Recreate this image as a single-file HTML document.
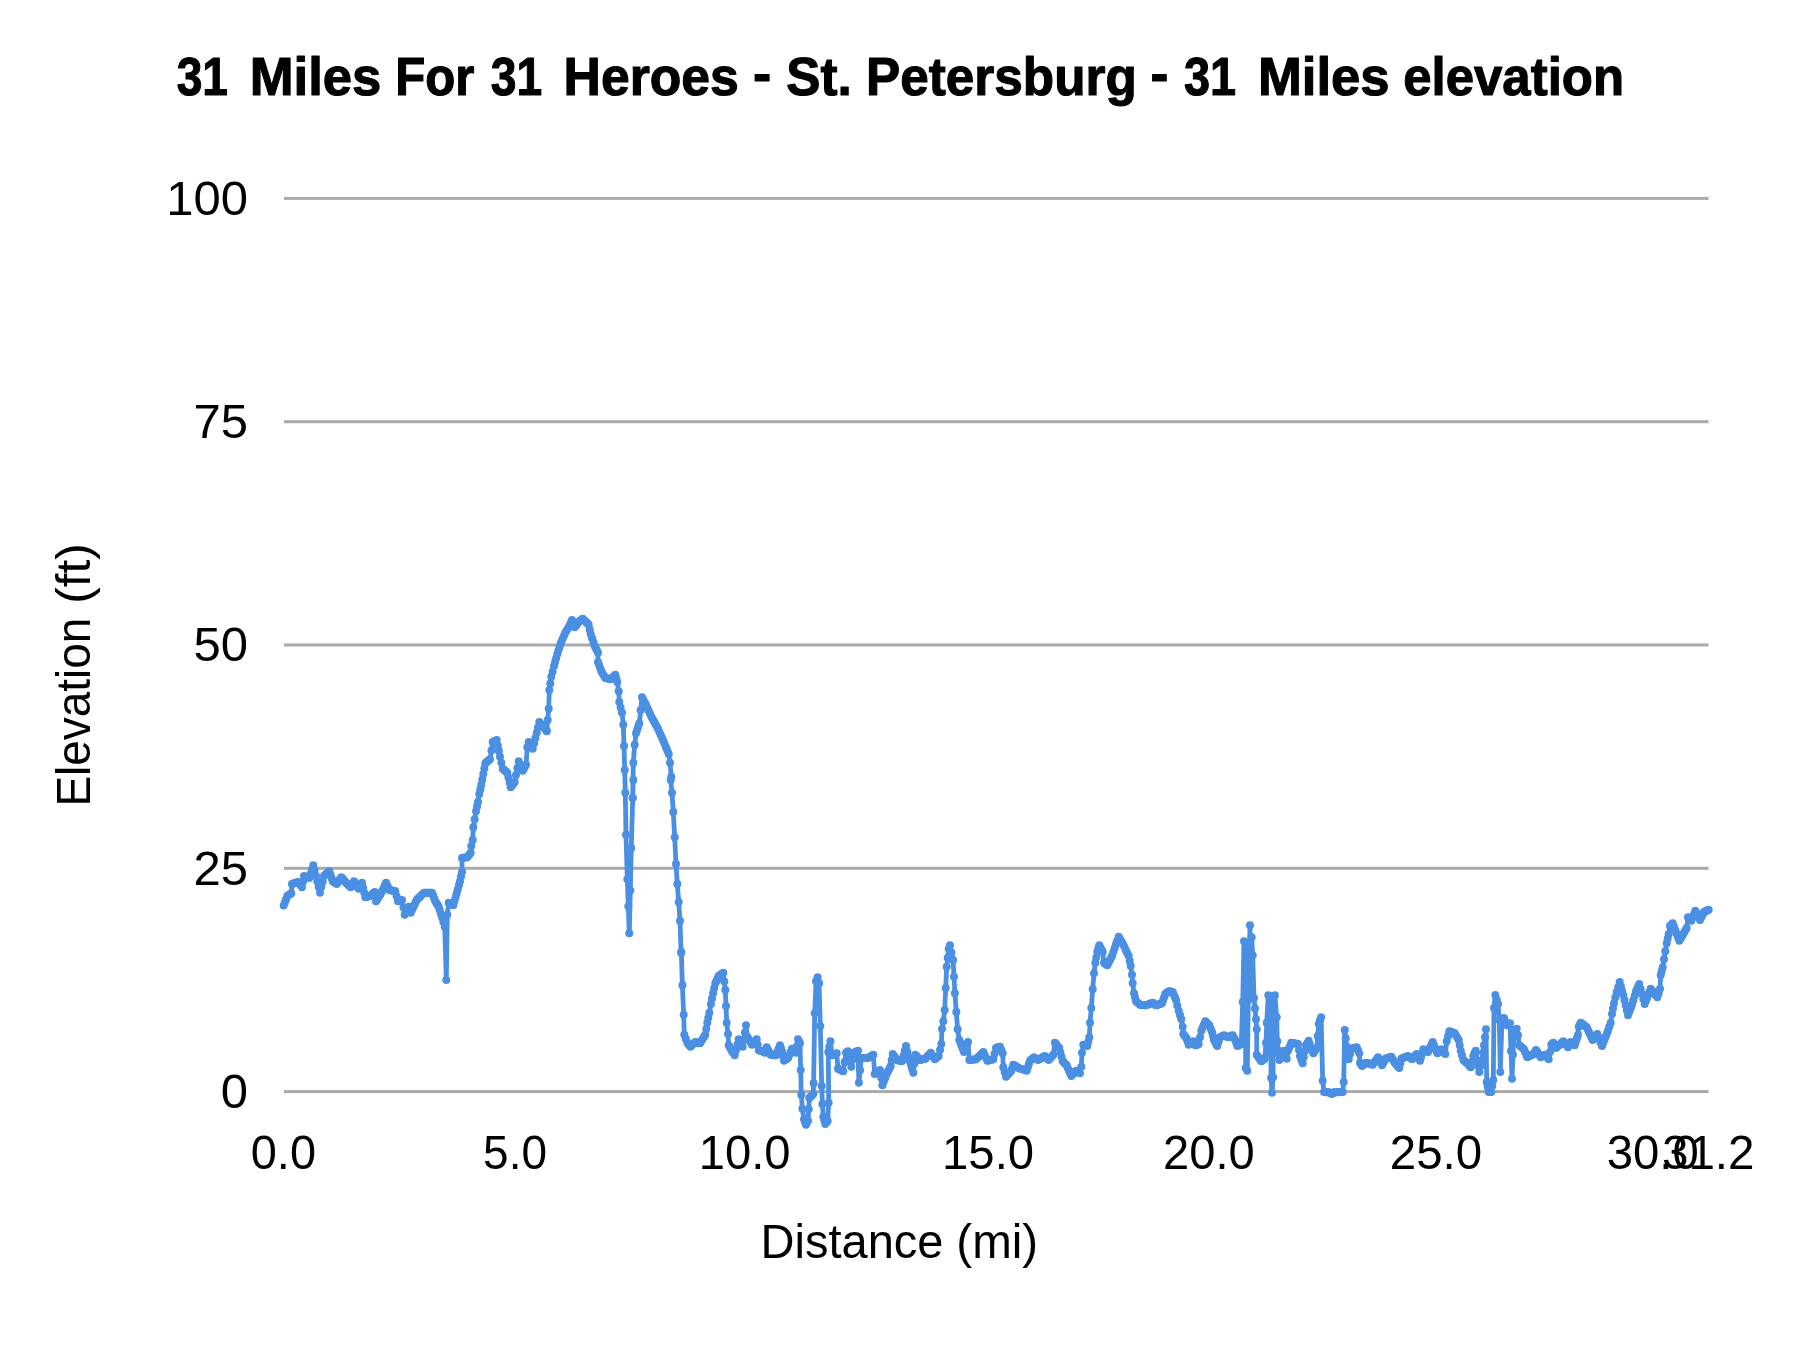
<!DOCTYPE html>
<html><head><meta charset="utf-8"><title>chart</title>
<style>
html,body{margin:0;padding:0;background:#fff;}
svg{display:block;font-family:"Liberation Sans",sans-serif;}
</style></head><body>
<svg width="1800" height="1350" viewBox="0 0 1800 1350">
<rect width="1800" height="1350" fill="#ffffff"/>
<g id="grid"><rect x="284" y="196.9" width="1424.5" height="3" fill="#aaaaaa"/><rect x="284" y="420.2" width="1424.5" height="3" fill="#aaaaaa"/><rect x="284" y="643.5" width="1424.5" height="3" fill="#aaaaaa"/><rect x="284" y="866.8" width="1424.5" height="3" fill="#aaaaaa"/><rect x="284" y="1090.1" width="1424.5" height="3" fill="#aaaaaa"/></g>
<g id="txt" fill="#000" style="filter:grayscale(1)"><text x="176.70" y="95.4" font-size="53.8" font-weight="bold" textLength="51.32" lengthAdjust="spacingAndGlyphs" stroke="#000" stroke-width="1.1" stroke-linejoin="round">31</text><text x="249.76" y="95.4" font-size="53.8" font-weight="bold" textLength="131.65" lengthAdjust="spacingAndGlyphs" stroke="#000" stroke-width="1.1" stroke-linejoin="round">Miles</text><text x="395.26" y="95.4" font-size="53.8" font-weight="bold" textLength="79.24" lengthAdjust="spacingAndGlyphs" stroke="#000" stroke-width="1.1" stroke-linejoin="round">For</text><text x="490.80" y="95.4" font-size="53.8" font-weight="bold" textLength="51.43" lengthAdjust="spacingAndGlyphs" stroke="#000" stroke-width="1.1" stroke-linejoin="round">31</text><text x="563.62" y="95.4" font-size="53.8" font-weight="bold" textLength="175.23" lengthAdjust="spacingAndGlyphs" stroke="#000" stroke-width="1.1" stroke-linejoin="round">Heroes</text><text x="752.98" y="92.4" font-size="53.8" font-weight="bold" textLength="18.26" lengthAdjust="spacingAndGlyphs" stroke="#000" stroke-width="1.1" stroke-linejoin="round">-</text><text x="786.35" y="95.4" font-size="53.8" font-weight="bold" textLength="65.47" lengthAdjust="spacingAndGlyphs" stroke="#000" stroke-width="1.1" stroke-linejoin="round">St.</text><text x="865.94" y="95.4" font-size="53.8" font-weight="bold" textLength="270.84" lengthAdjust="spacingAndGlyphs" stroke="#000" stroke-width="1.1" stroke-linejoin="round">Petersburg</text><text x="1150.50" y="92.4" font-size="53.8" font-weight="bold" textLength="17.92" lengthAdjust="spacingAndGlyphs" stroke="#000" stroke-width="1.1" stroke-linejoin="round">-</text><text x="1184.00" y="95.4" font-size="53.8" font-weight="bold" textLength="52.14" lengthAdjust="spacingAndGlyphs" stroke="#000" stroke-width="1.1" stroke-linejoin="round">31</text><text x="1257.96" y="95.4" font-size="53.8" font-weight="bold" textLength="131.65" lengthAdjust="spacingAndGlyphs" stroke="#000" stroke-width="1.1" stroke-linejoin="round">Miles</text><text x="1403.15" y="95.4" font-size="53.8" font-weight="bold" textLength="220.95" lengthAdjust="spacingAndGlyphs" stroke="#000" stroke-width="1.1" stroke-linejoin="round">elevation</text><text x="250.78" y="1169.0" font-size="49" font-weight="normal" textLength="65.25" lengthAdjust="spacingAndGlyphs">0.0</text><text x="483.12" y="1169.0" font-size="49" font-weight="normal" textLength="63.87" lengthAdjust="spacingAndGlyphs">5.0</text><text x="698.81" y="1169.0" font-size="49" font-weight="normal" textLength="91.81" lengthAdjust="spacingAndGlyphs">10.0</text><text x="942.11" y="1169.0" font-size="49" font-weight="normal" textLength="91.92" lengthAdjust="spacingAndGlyphs">15.0</text><text x="1163.08" y="1169.0" font-size="49" font-weight="normal" textLength="91.54" lengthAdjust="spacingAndGlyphs">20.0</text><text x="1389.77" y="1169.0" font-size="49" font-weight="normal" textLength="92.26" lengthAdjust="spacingAndGlyphs">25.0</text><text x="1606.77" y="1169.0" font-size="49" font-weight="normal" textLength="92.06" lengthAdjust="spacingAndGlyphs">30.0</text><text x="1661.96" y="1169.0" font-size="49" font-weight="normal" textLength="92.55" lengthAdjust="spacingAndGlyphs">31.2</text><text x="760.56" y="1258.3" font-size="48" font-weight="normal" textLength="182.95" lengthAdjust="spacingAndGlyphs">Distance</text><text x="956.32" y="1258.3" font-size="48" font-weight="normal" textLength="81.79" lengthAdjust="spacingAndGlyphs">(mi)</text><text x="248" y="214.6" text-anchor="end" font-size="49">100</text><text x="248" y="437.9" text-anchor="end" font-size="49">75</text><text x="248" y="661.2" text-anchor="end" font-size="49">50</text><text x="248" y="884.5" text-anchor="end" font-size="49">25</text><text x="248" y="1107.8" text-anchor="end" font-size="49">0</text><text transform="translate(90,806.57) rotate(-90)" font-size="48" textLength="188.93" lengthAdjust="spacingAndGlyphs">Elevation</text><text transform="translate(90,603.87) rotate(-90)" font-size="48" textLength="60.67" lengthAdjust="spacingAndGlyphs">(ft)</text></g>
<polyline points="283.7,905.6 287.3,896.0 291.3,893.3 292.0,884.0 298.0,882.0 302.0,887.3 304.0,876.0 309.3,878.0 313.3,865.3 316.0,876.0 320.0,892.7 324.0,876.0 329.3,871.3 332.7,881.3 336.7,884.0 341.3,877.3 347.3,884.0 350.7,887.3 354.0,881.3 358.7,888.7 362.0,882.7 365.3,897.3 370.0,896.0 374.7,892.0 376.0,901.3 380.7,894.0 386.0,882.7 389.3,890.0 395.3,891.3 398.0,901.3 402.0,900.0 404.7,914.7 408.7,906.7 410.7,912.7 416.7,900.0 424.0,892.7 432.0,892.7 435.3,901.3 438.7,906.7 442.0,917.3 444.7,926.7 446.3,980.0 447.3,914.7 448.7,902.7 453.3,905.3 456.7,893.3 460.0,881.3 462.0,872.0 462.0,858.0 467.3,857.3 470.7,852.7 471.3,846.0 472.7,840.0 473.3,827.3 474.7,819.3 476.0,811.3 478.0,802.0 479.3,794.0 481.3,784.7 483.3,774.0 485.3,763.3 490.0,759.3 492.7,742.0 496.7,740.0 500.0,756.7 502.7,768.7 507.3,772.7 510.7,787.3 514.7,782.0 518.7,761.3 522.7,770.7 526.0,764.7 527.3,747.3 528.7,742.0 532.7,748.7 536.7,732.7 539.3,722.0 546.7,730.7 546.7,731.3 548.7,708.7 549.3,690.0 551.3,676.7 554.0,666.0 557.3,654.0 560.7,643.3 565.3,632.7 569.3,626.0 572.0,620.0 574.7,627.3 579.3,621.3 582.7,618.7 588.7,624.7 590.7,634.0 594.7,646.0 598.0,652.7 598.0,662.0 601.3,671.3 605.3,678.0 610.7,679.3 615.3,674.7 617.3,682.0 618.7,691.3 619.3,702.0 622.0,712.7 623.3,724.7 624.0,746.0 624.7,770.0 625.3,792.7 626.0,834.7 627.3,879.3 629.3,933.3 631.3,848.0 632.7,798.0 633.3,780.0 632.7,798.0 633.3,762.7 634.7,744.7 636.0,733.3 639.3,723.3 642.0,697.3 646.0,704.7 651.3,716.7 658.0,728.7 663.3,740.7 668.7,754.0 670.0,762.7 671.3,776.7 670.7,780.0 672.0,792.7 673.3,812.0 674.7,837.3 676.0,864.0 677.3,884.0 678.7,902.0 680.0,920.7 681.1,952.7 681.3,952.0 682.4,985.3 683.7,1014.7 684.3,1034.7 687.3,1042.7 690.4,1046.7 695.3,1042.0 700.0,1043.3 705.3,1034.7 707.3,1022.7 709.3,1012.7 710.9,1004.0 713.1,993.3 715.3,983.3 718.7,976.0 723.3,972.7 725.3,990.0 726.0,1006.0 726.7,1022.7 728.0,1034.0 728.7,1045.3 732.0,1051.3 734.7,1055.3 738.7,1039.3 742.7,1046.7 746.0,1025.3 747.3,1036.7 752.0,1044.7 756.7,1039.3 758.7,1050.0 765.3,1052.7 766.7,1047.3 770.7,1054.7 776.0,1055.3 780.0,1045.3 782.0,1051.3 784.0,1060.7 788.0,1058.0 792.0,1048.7 796.0,1052.7 798.0,1039.3 800.0,1043.3 800.7,1070.0 801.3,1094.7 802.4,1108.7 804.0,1119.3 806.0,1124.7 808.0,1120.7 808.7,1109.3 809.3,1098.0 813.3,1094.0 813.6,1083.3 814.7,1013.3 816.0,981.3 817.6,977.3 819.1,983.3 820.3,1026.0 821.7,1086.0 822.4,1104.0 823.3,1116.7 825.3,1124.0 827.7,1120.7 828.7,1102.7 828.3,1052.0 830.4,1041.3 832.0,1055.3 836.7,1053.3 838.0,1068.7 843.3,1071.3 846.0,1052.7 848.0,1051.3 851.3,1066.7 854.0,1052.7 858.0,1050.7 858.9,1082.7 861.3,1058.0 868.0,1058.0 873.3,1054.7 874.7,1074.0 880.0,1070.0 882.4,1085.3 886.7,1074.0 890.7,1066.0 892.7,1054.0 896.7,1060.0 902.0,1061.3 906.0,1046.0 908.7,1057.3 913.3,1072.7 915.3,1054.7 920.0,1060.0 925.3,1058.7 930.7,1052.7 934.7,1059.3 938.7,1056.0 941.3,1044.0 942.0,1028.7 943.3,1021.3 944.7,1010.0 945.7,988.0 946.7,966.7 948.7,948.7 950.0,945.3 953.1,960.0 954.0,976.7 954.9,993.3 956.3,1012.0 957.6,1029.3 959.3,1040.0 964.0,1052.0 968.0,1042.0 969.3,1060.0 976.0,1059.3 983.3,1052.0 987.3,1060.7 993.3,1059.3 996.0,1048.0 1000.0,1046.7 1002.7,1053.3 1003.3,1067.3 1006.0,1076.7 1011.3,1070.7 1013.3,1064.7 1018.7,1068.0 1026.7,1070.7 1030.0,1060.7 1034.0,1057.3 1038.0,1060.0 1044.7,1056.0 1048.7,1060.0 1053.3,1054.7 1054.9,1042.7 1059.3,1048.0 1062.7,1061.3 1066.7,1065.3 1071.3,1076.0 1076.0,1070.7 1080.0,1073.3 1081.3,1066.7 1082.0,1052.7 1083.3,1044.7 1087.3,1046.0 1089.3,1037.3 1090.0,1022.7 1091.3,1008.0 1092.7,989.3 1094.0,973.3 1095.3,962.7 1097.3,952.0 1099.3,945.3 1102.7,952.0 1104.0,962.7 1107.3,965.3 1112.0,956.0 1116.0,944.0 1118.7,936.7 1123.3,944.7 1128.7,956.0 1130.7,966.0 1132.0,974.7 1132.7,983.3 1134.0,993.3 1136.0,1001.3 1140.0,1004.7 1146.0,1005.3 1152.7,1002.7 1156.0,1005.3 1162.0,1003.3 1165.3,994.0 1168.7,991.3 1172.7,992.0 1176.0,1000.0 1178.7,1010.7 1181.3,1019.3 1182.7,1026.7 1183.3,1034.0 1186.7,1038.7 1188.7,1044.7 1193.3,1041.3 1195.3,1045.3 1198.7,1044.0 1201.3,1030.7 1205.3,1021.3 1209.3,1025.3 1212.0,1032.0 1214.0,1040.0 1217.3,1046.0 1220.0,1037.3 1224.0,1035.3 1228.0,1037.3 1232.7,1035.3 1235.3,1040.0 1237.3,1046.0 1241.3,1044.0 1242.7,1002.0 1244.0,941.3 1244.8,1005.3 1245.9,945.3 1245.6,1068.0 1247.3,1070.7 1248.3,1000.0 1250.0,925.3 1250.7,994.7 1251.7,937.3 1252.7,955.3 1254.0,998.0 1256.0,1019.3 1256.7,1029.3 1256.7,1054.7 1261.3,1061.3 1264.7,1058.7 1266.0,1042.7 1266.7,1022.7 1268.3,995.3 1269.3,1053.3 1270.4,996.0 1271.1,1078.0 1272.0,1092.7 1273.1,1077.3 1273.3,996.7 1274.1,1053.3 1274.9,995.3 1276.7,1017.3 1277.3,1041.3 1279.3,1060.0 1284.0,1050.7 1286.7,1058.7 1288.0,1050.7 1291.3,1042.7 1298.0,1044.0 1300.0,1056.0 1302.7,1063.3 1306.0,1045.3 1308.7,1040.7 1310.7,1048.0 1313.3,1053.3 1316.7,1048.0 1318.7,1024.0 1321.1,1017.3 1322.7,1080.7 1324.0,1092.0 1329.3,1092.3 1331.7,1094.0 1334.0,1092.3 1342.7,1092.0 1343.7,1082.0 1344.7,1030.0 1346.7,1046.7 1348.7,1059.3 1351.3,1048.7 1356.7,1047.3 1359.3,1053.3 1360.0,1062.7 1362.0,1066.0 1366.0,1062.7 1372.7,1064.7 1378.0,1057.3 1382.0,1065.3 1385.3,1058.7 1391.3,1056.7 1394.7,1062.7 1399.3,1068.0 1401.3,1058.7 1408.0,1056.0 1412.0,1059.3 1416.7,1054.0 1420.0,1060.7 1423.3,1049.3 1428.0,1052.0 1432.7,1042.0 1437.3,1053.3 1441.3,1049.3 1445.3,1054.0 1446.7,1041.3 1449.3,1031.3 1454.7,1033.3 1458.7,1040.0 1460.7,1050.7 1463.3,1060.0 1468.0,1064.0 1470.7,1067.3 1473.3,1056.0 1475.7,1050.7 1477.3,1060.7 1479.3,1072.0 1482.0,1060.0 1484.0,1045.3 1486.0,1029.3 1486.7,1082.0 1488.7,1092.0 1491.3,1092.0 1493.3,1080.0 1494.0,1008.0 1495.3,994.9 1498.0,1004.0 1499.3,1020.0 1500.3,1072.0 1502.0,1018.7 1504.0,1018.0 1506.7,1025.3 1510.0,1023.3 1512.0,1078.7 1514.0,1030.7 1516.7,1028.7 1518.0,1035.3 1519.3,1045.3 1524.0,1049.3 1527.3,1057.3 1533.3,1054.0 1536.0,1050.0 1540.7,1057.3 1545.3,1054.7 1548.7,1059.3 1551.3,1044.7 1553.3,1042.7 1556.0,1048.0 1563.3,1041.3 1568.0,1047.3 1570.7,1042.0 1574.7,1045.3 1578.0,1034.7 1578.7,1026.7 1580.7,1022.7 1586.7,1027.3 1592.7,1040.0 1597.3,1034.0 1602.0,1046.0 1608.0,1030.7 1610.7,1022.7 1612.0,1014.0 1614.0,1003.3 1616.7,992.0 1619.7,982.0 1623.3,995.3 1628.0,1015.3 1632.0,1004.7 1636.0,991.3 1639.3,984.0 1644.7,1004.0 1650.7,988.7 1657.3,997.3 1660.0,988.7 1660.7,975.3 1662.7,967.3 1664.0,959.3 1665.3,951.3 1666.7,943.3 1668.7,934.0 1670.0,926.0 1672.7,923.3 1679.3,940.7 1686.7,928.0 1688.0,917.3 1691.3,920.7 1695.3,910.7 1700.0,920.0 1704.0,912.0 1708.7,909.7" fill="none" stroke="#4a8fe2" stroke-width="4.8" stroke-linejoin="round" stroke-linecap="round"/>
<g fill="#4a8fe2"><circle cx="283.7" cy="905.6" r="4"/><circle cx="284.9" cy="902.4" r="4"/><circle cx="286.1" cy="899.2" r="4"/><circle cx="287.3" cy="896.0" r="4"/><circle cx="288.6" cy="895.1" r="4"/><circle cx="290.0" cy="894.2" r="4"/><circle cx="291.3" cy="893.3" r="4"/><circle cx="292.0" cy="884.0" r="4"/><circle cx="293.2" cy="883.6" r="4"/><circle cx="294.4" cy="883.2" r="4"/><circle cx="295.6" cy="882.8" r="4"/><circle cx="296.8" cy="882.4" r="4"/><circle cx="298.0" cy="882.0" r="4"/><circle cx="299.3" cy="883.8" r="4"/><circle cx="300.7" cy="885.5" r="4"/><circle cx="302.0" cy="887.3" r="4"/><circle cx="303.0" cy="881.6" r="4"/><circle cx="304.0" cy="876.0" r="4"/><circle cx="305.3" cy="876.5" r="4"/><circle cx="306.6" cy="877.0" r="4"/><circle cx="308.0" cy="877.5" r="4"/><circle cx="309.3" cy="878.0" r="4"/><circle cx="310.6" cy="873.8" r="4"/><circle cx="312.0" cy="869.5" r="4"/><circle cx="313.3" cy="865.3" r="4"/><circle cx="314.6" cy="870.6" r="4"/><circle cx="316.0" cy="876.0" r="4"/><circle cx="317.3" cy="881.6" r="4"/><circle cx="318.7" cy="887.1" r="4"/><circle cx="320.0" cy="892.7" r="4"/><circle cx="321.3" cy="887.1" r="4"/><circle cx="322.7" cy="881.6" r="4"/><circle cx="324.0" cy="876.0" r="4"/><circle cx="325.3" cy="874.8" r="4"/><circle cx="326.6" cy="873.6" r="4"/><circle cx="328.0" cy="872.5" r="4"/><circle cx="329.3" cy="871.3" r="4"/><circle cx="330.4" cy="874.6" r="4"/><circle cx="331.6" cy="878.0" r="4"/><circle cx="332.7" cy="881.3" r="4"/><circle cx="334.0" cy="882.2" r="4"/><circle cx="335.4" cy="883.1" r="4"/><circle cx="336.7" cy="884.0" r="4"/><circle cx="337.9" cy="882.3" r="4"/><circle cx="339.0" cy="880.6" r="4"/><circle cx="340.1" cy="879.0" r="4"/><circle cx="341.3" cy="877.3" r="4"/><circle cx="342.5" cy="878.6" r="4"/><circle cx="343.7" cy="880.0" r="4"/><circle cx="344.9" cy="881.3" r="4"/><circle cx="346.1" cy="882.7" r="4"/><circle cx="347.3" cy="884.0" r="4"/><circle cx="348.4" cy="885.1" r="4"/><circle cx="349.6" cy="886.2" r="4"/><circle cx="350.7" cy="887.3" r="4"/><circle cx="351.8" cy="885.3" r="4"/><circle cx="352.9" cy="883.3" r="4"/><circle cx="354.0" cy="881.3" r="4"/><circle cx="355.2" cy="883.1" r="4"/><circle cx="356.4" cy="885.0" r="4"/><circle cx="357.5" cy="886.9" r="4"/><circle cx="358.7" cy="888.7" r="4"/><circle cx="359.8" cy="886.7" r="4"/><circle cx="360.9" cy="884.7" r="4"/><circle cx="362.0" cy="882.7" r="4"/><circle cx="363.1" cy="887.6" r="4"/><circle cx="364.2" cy="892.4" r="4"/><circle cx="365.3" cy="897.3" r="4"/><circle cx="366.5" cy="897.0" r="4"/><circle cx="367.6" cy="896.6" r="4"/><circle cx="368.8" cy="896.3" r="4"/><circle cx="370.0" cy="896.0" r="4"/><circle cx="371.2" cy="895.0" r="4"/><circle cx="372.4" cy="894.0" r="4"/><circle cx="373.5" cy="893.0" r="4"/><circle cx="374.7" cy="892.0" r="4"/><circle cx="376.0" cy="901.3" r="4"/><circle cx="377.2" cy="899.5" r="4"/><circle cx="378.4" cy="897.6" r="4"/><circle cx="379.5" cy="895.8" r="4"/><circle cx="380.7" cy="894.0" r="4"/><circle cx="382.0" cy="891.2" r="4"/><circle cx="383.4" cy="888.4" r="4"/><circle cx="384.7" cy="885.5" r="4"/><circle cx="386.0" cy="882.7" r="4"/><circle cx="387.1" cy="885.1" r="4"/><circle cx="388.2" cy="887.6" r="4"/><circle cx="389.3" cy="890.0" r="4"/><circle cx="390.5" cy="890.3" r="4"/><circle cx="391.7" cy="890.5" r="4"/><circle cx="392.9" cy="890.8" r="4"/><circle cx="394.1" cy="891.0" r="4"/><circle cx="395.3" cy="891.3" r="4"/><circle cx="396.6" cy="896.3" r="4"/><circle cx="398.0" cy="901.3" r="4"/><circle cx="399.3" cy="900.9" r="4"/><circle cx="400.7" cy="900.4" r="4"/><circle cx="402.0" cy="900.0" r="4"/><circle cx="403.4" cy="907.4" r="4"/><circle cx="404.7" cy="914.7" r="4"/><circle cx="406.0" cy="912.0" r="4"/><circle cx="407.4" cy="909.4" r="4"/><circle cx="408.7" cy="906.7" r="4"/><circle cx="409.7" cy="909.7" r="4"/><circle cx="410.7" cy="912.7" r="4"/><circle cx="411.9" cy="910.2" r="4"/><circle cx="413.1" cy="907.6" r="4"/><circle cx="414.3" cy="905.1" r="4"/><circle cx="415.5" cy="902.5" r="4"/><circle cx="416.7" cy="900.0" r="4"/><circle cx="417.9" cy="898.8" r="4"/><circle cx="419.1" cy="897.6" r="4"/><circle cx="420.4" cy="896.4" r="4"/><circle cx="421.6" cy="895.1" r="4"/><circle cx="422.8" cy="893.9" r="4"/><circle cx="424.0" cy="892.7" r="4"/><circle cx="425.3" cy="892.7" r="4"/><circle cx="426.7" cy="892.7" r="4"/><circle cx="428.0" cy="892.7" r="4"/><circle cx="429.3" cy="892.7" r="4"/><circle cx="430.7" cy="892.7" r="4"/><circle cx="432.0" cy="892.7" r="4"/><circle cx="433.1" cy="895.6" r="4"/><circle cx="434.2" cy="898.4" r="4"/><circle cx="435.3" cy="901.3" r="4"/><circle cx="436.4" cy="903.1" r="4"/><circle cx="437.6" cy="904.9" r="4"/><circle cx="438.7" cy="906.7" r="4"/><circle cx="439.8" cy="910.2" r="4"/><circle cx="440.9" cy="913.8" r="4"/><circle cx="442.0" cy="917.3" r="4"/><circle cx="443.4" cy="922.0" r="4"/><circle cx="444.7" cy="926.7" r="4"/><circle cx="446.3" cy="980.0" r="4"/><circle cx="447.3" cy="914.7" r="4"/><circle cx="448.7" cy="902.7" r="4"/><circle cx="449.9" cy="903.4" r="4"/><circle cx="451.0" cy="904.0" r="4"/><circle cx="452.1" cy="904.6" r="4"/><circle cx="453.3" cy="905.3" r="4"/><circle cx="454.4" cy="901.3" r="4"/><circle cx="455.6" cy="897.3" r="4"/><circle cx="456.7" cy="893.3" r="4"/><circle cx="457.8" cy="889.3" r="4"/><circle cx="458.9" cy="885.3" r="4"/><circle cx="460.0" cy="881.3" r="4"/><circle cx="461.0" cy="876.6" r="4"/><circle cx="462.0" cy="872.0" r="4"/><circle cx="462.0" cy="858.0" r="4"/><circle cx="463.3" cy="857.8" r="4"/><circle cx="464.6" cy="857.6" r="4"/><circle cx="466.0" cy="857.5" r="4"/><circle cx="467.3" cy="857.3" r="4"/><circle cx="468.4" cy="855.8" r="4"/><circle cx="469.6" cy="854.2" r="4"/><circle cx="470.7" cy="852.7" r="4"/><circle cx="471.3" cy="846.0" r="4"/><circle cx="472.7" cy="840.0" r="4"/><circle cx="473.3" cy="827.3" r="4"/><circle cx="474.7" cy="819.3" r="4"/><circle cx="476.0" cy="811.3" r="4"/><circle cx="477.0" cy="806.6" r="4"/><circle cx="478.0" cy="802.0" r="4"/><circle cx="479.3" cy="794.0" r="4"/><circle cx="480.3" cy="789.4" r="4"/><circle cx="481.3" cy="784.7" r="4"/><circle cx="482.3" cy="779.4" r="4"/><circle cx="483.3" cy="774.0" r="4"/><circle cx="484.3" cy="768.6" r="4"/><circle cx="485.3" cy="763.3" r="4"/><circle cx="486.5" cy="762.3" r="4"/><circle cx="487.6" cy="761.3" r="4"/><circle cx="488.8" cy="760.3" r="4"/><circle cx="490.0" cy="759.3" r="4"/><circle cx="491.4" cy="750.6" r="4"/><circle cx="492.7" cy="742.0" r="4"/><circle cx="494.0" cy="741.3" r="4"/><circle cx="495.4" cy="740.7" r="4"/><circle cx="496.7" cy="740.0" r="4"/><circle cx="497.8" cy="745.6" r="4"/><circle cx="498.9" cy="751.1" r="4"/><circle cx="500.0" cy="756.7" r="4"/><circle cx="501.4" cy="762.7" r="4"/><circle cx="502.7" cy="768.7" r="4"/><circle cx="503.9" cy="769.7" r="4"/><circle cx="505.0" cy="770.7" r="4"/><circle cx="506.1" cy="771.7" r="4"/><circle cx="507.3" cy="772.7" r="4"/><circle cx="508.4" cy="777.6" r="4"/><circle cx="509.6" cy="782.4" r="4"/><circle cx="510.7" cy="787.3" r="4"/><circle cx="512.0" cy="785.5" r="4"/><circle cx="513.4" cy="783.8" r="4"/><circle cx="514.7" cy="782.0" r="4"/><circle cx="516.0" cy="775.1" r="4"/><circle cx="517.4" cy="768.2" r="4"/><circle cx="518.7" cy="761.3" r="4"/><circle cx="520.0" cy="764.4" r="4"/><circle cx="521.4" cy="767.6" r="4"/><circle cx="522.7" cy="770.7" r="4"/><circle cx="523.8" cy="768.7" r="4"/><circle cx="524.9" cy="766.7" r="4"/><circle cx="526.0" cy="764.7" r="4"/><circle cx="527.3" cy="747.3" r="4"/><circle cx="528.7" cy="742.0" r="4"/><circle cx="530.0" cy="744.2" r="4"/><circle cx="531.4" cy="746.5" r="4"/><circle cx="532.7" cy="748.7" r="4"/><circle cx="534.0" cy="743.4" r="4"/><circle cx="535.4" cy="738.0" r="4"/><circle cx="536.7" cy="732.7" r="4"/><circle cx="538.0" cy="727.4" r="4"/><circle cx="539.3" cy="722.0" r="4"/><circle cx="540.5" cy="723.5" r="4"/><circle cx="541.8" cy="724.9" r="4"/><circle cx="543.0" cy="726.4" r="4"/><circle cx="544.2" cy="727.8" r="4"/><circle cx="545.5" cy="729.2" r="4"/><circle cx="546.7" cy="730.7" r="4"/><circle cx="546.7" cy="731.3" r="4"/><circle cx="547.7" cy="720.0" r="4"/><circle cx="548.7" cy="708.7" r="4"/><circle cx="549.3" cy="690.0" r="4"/><circle cx="550.3" cy="683.4" r="4"/><circle cx="551.3" cy="676.7" r="4"/><circle cx="552.6" cy="671.4" r="4"/><circle cx="554.0" cy="666.0" r="4"/><circle cx="555.1" cy="662.0" r="4"/><circle cx="556.2" cy="658.0" r="4"/><circle cx="557.3" cy="654.0" r="4"/><circle cx="558.4" cy="650.4" r="4"/><circle cx="559.6" cy="646.9" r="4"/><circle cx="560.7" cy="643.3" r="4"/><circle cx="561.9" cy="640.6" r="4"/><circle cx="563.0" cy="638.0" r="4"/><circle cx="564.1" cy="635.4" r="4"/><circle cx="565.3" cy="632.7" r="4"/><circle cx="566.6" cy="630.5" r="4"/><circle cx="568.0" cy="628.2" r="4"/><circle cx="569.3" cy="626.0" r="4"/><circle cx="570.6" cy="623.0" r="4"/><circle cx="572.0" cy="620.0" r="4"/><circle cx="573.4" cy="623.6" r="4"/><circle cx="574.7" cy="627.3" r="4"/><circle cx="575.9" cy="625.8" r="4"/><circle cx="577.0" cy="624.3" r="4"/><circle cx="578.1" cy="622.8" r="4"/><circle cx="579.3" cy="621.3" r="4"/><circle cx="580.4" cy="620.4" r="4"/><circle cx="581.6" cy="619.6" r="4"/><circle cx="582.7" cy="618.7" r="4"/><circle cx="583.9" cy="619.9" r="4"/><circle cx="585.1" cy="621.1" r="4"/><circle cx="586.3" cy="622.3" r="4"/><circle cx="587.5" cy="623.5" r="4"/><circle cx="588.7" cy="624.7" r="4"/><circle cx="589.7" cy="629.4" r="4"/><circle cx="590.7" cy="634.0" r="4"/><circle cx="592.0" cy="638.0" r="4"/><circle cx="593.4" cy="642.0" r="4"/><circle cx="594.7" cy="646.0" r="4"/><circle cx="595.8" cy="648.2" r="4"/><circle cx="596.9" cy="650.5" r="4"/><circle cx="598.0" cy="652.7" r="4"/><circle cx="598.0" cy="662.0" r="4"/><circle cx="599.1" cy="665.1" r="4"/><circle cx="600.2" cy="668.2" r="4"/><circle cx="601.3" cy="671.3" r="4"/><circle cx="602.6" cy="673.5" r="4"/><circle cx="604.0" cy="675.8" r="4"/><circle cx="605.3" cy="678.0" r="4"/><circle cx="606.6" cy="678.3" r="4"/><circle cx="608.0" cy="678.6" r="4"/><circle cx="609.4" cy="679.0" r="4"/><circle cx="610.7" cy="679.3" r="4"/><circle cx="611.9" cy="678.1" r="4"/><circle cx="613.0" cy="677.0" r="4"/><circle cx="614.1" cy="675.9" r="4"/><circle cx="615.3" cy="674.7" r="4"/><circle cx="616.3" cy="678.4" r="4"/><circle cx="617.3" cy="682.0" r="4"/><circle cx="618.7" cy="691.3" r="4"/><circle cx="619.3" cy="702.0" r="4"/><circle cx="620.6" cy="707.4" r="4"/><circle cx="622.0" cy="712.7" r="4"/><circle cx="623.3" cy="724.7" r="4"/><circle cx="624.0" cy="746.0" r="4"/><circle cx="624.7" cy="770.0" r="4"/><circle cx="625.3" cy="792.7" r="4"/><circle cx="626.0" cy="834.7" r="4"/><circle cx="627.3" cy="879.3" r="4"/><circle cx="628.3" cy="906.3" r="4"/><circle cx="629.3" cy="933.3" r="4"/><circle cx="630.3" cy="890.6" r="4"/><circle cx="631.3" cy="848.0" r="4"/><circle cx="632.7" cy="798.0" r="4"/><circle cx="633.3" cy="780.0" r="4"/><circle cx="632.7" cy="798.0" r="4"/><circle cx="633.3" cy="762.7" r="4"/><circle cx="634.7" cy="744.7" r="4"/><circle cx="636.0" cy="733.3" r="4"/><circle cx="637.1" cy="730.0" r="4"/><circle cx="638.2" cy="726.6" r="4"/><circle cx="639.3" cy="723.3" r="4"/><circle cx="640.6" cy="710.3" r="4"/><circle cx="642.0" cy="697.3" r="4"/><circle cx="643.3" cy="699.8" r="4"/><circle cx="644.7" cy="702.2" r="4"/><circle cx="646.0" cy="704.7" r="4"/><circle cx="647.3" cy="707.7" r="4"/><circle cx="648.6" cy="710.7" r="4"/><circle cx="650.0" cy="713.7" r="4"/><circle cx="651.3" cy="716.7" r="4"/><circle cx="652.6" cy="719.1" r="4"/><circle cx="654.0" cy="721.5" r="4"/><circle cx="655.3" cy="723.9" r="4"/><circle cx="656.7" cy="726.3" r="4"/><circle cx="658.0" cy="728.7" r="4"/><circle cx="659.3" cy="731.7" r="4"/><circle cx="660.6" cy="734.7" r="4"/><circle cx="662.0" cy="737.7" r="4"/><circle cx="663.3" cy="740.7" r="4"/><circle cx="664.6" cy="744.0" r="4"/><circle cx="666.0" cy="747.4" r="4"/><circle cx="667.4" cy="750.7" r="4"/><circle cx="668.7" cy="754.0" r="4"/><circle cx="670.0" cy="762.7" r="4"/><circle cx="671.3" cy="776.7" r="4"/><circle cx="670.7" cy="780.0" r="4"/><circle cx="672.0" cy="792.7" r="4"/><circle cx="673.3" cy="812.0" r="4"/><circle cx="674.7" cy="837.3" r="4"/><circle cx="676.0" cy="864.0" r="4"/><circle cx="677.3" cy="884.0" r="4"/><circle cx="678.7" cy="902.0" r="4"/><circle cx="680.0" cy="920.7" r="4"/><circle cx="681.1" cy="952.7" r="4"/><circle cx="681.3" cy="952.0" r="4"/><circle cx="682.4" cy="985.3" r="4"/><circle cx="683.7" cy="1014.7" r="4"/><circle cx="684.3" cy="1034.7" r="4"/><circle cx="685.8" cy="1038.7" r="4"/><circle cx="687.3" cy="1042.7" r="4"/><circle cx="688.8" cy="1044.7" r="4"/><circle cx="690.4" cy="1046.7" r="4"/><circle cx="691.6" cy="1045.5" r="4"/><circle cx="692.8" cy="1044.3" r="4"/><circle cx="694.1" cy="1043.2" r="4"/><circle cx="695.3" cy="1042.0" r="4"/><circle cx="696.5" cy="1042.3" r="4"/><circle cx="697.6" cy="1042.7" r="4"/><circle cx="698.8" cy="1043.0" r="4"/><circle cx="700.0" cy="1043.3" r="4"/><circle cx="701.3" cy="1041.2" r="4"/><circle cx="702.6" cy="1039.0" r="4"/><circle cx="704.0" cy="1036.8" r="4"/><circle cx="705.3" cy="1034.7" r="4"/><circle cx="706.3" cy="1028.7" r="4"/><circle cx="707.3" cy="1022.7" r="4"/><circle cx="708.3" cy="1017.7" r="4"/><circle cx="709.3" cy="1012.7" r="4"/><circle cx="710.9" cy="1004.0" r="4"/><circle cx="712.0" cy="998.6" r="4"/><circle cx="713.1" cy="993.3" r="4"/><circle cx="714.2" cy="988.3" r="4"/><circle cx="715.3" cy="983.3" r="4"/><circle cx="716.4" cy="980.9" r="4"/><circle cx="717.6" cy="978.4" r="4"/><circle cx="718.7" cy="976.0" r="4"/><circle cx="719.9" cy="975.2" r="4"/><circle cx="721.0" cy="974.4" r="4"/><circle cx="722.1" cy="973.5" r="4"/><circle cx="723.3" cy="972.7" r="4"/><circle cx="724.3" cy="981.4" r="4"/><circle cx="725.3" cy="990.0" r="4"/><circle cx="726.0" cy="1006.0" r="4"/><circle cx="726.7" cy="1022.7" r="4"/><circle cx="728.0" cy="1034.0" r="4"/><circle cx="728.7" cy="1045.3" r="4"/><circle cx="729.8" cy="1047.3" r="4"/><circle cx="730.9" cy="1049.3" r="4"/><circle cx="732.0" cy="1051.3" r="4"/><circle cx="733.4" cy="1053.3" r="4"/><circle cx="734.7" cy="1055.3" r="4"/><circle cx="736.0" cy="1050.0" r="4"/><circle cx="737.4" cy="1044.6" r="4"/><circle cx="738.7" cy="1039.3" r="4"/><circle cx="740.0" cy="1041.8" r="4"/><circle cx="741.4" cy="1044.2" r="4"/><circle cx="742.7" cy="1046.7" r="4"/><circle cx="743.8" cy="1039.6" r="4"/><circle cx="744.9" cy="1032.4" r="4"/><circle cx="746.0" cy="1025.3" r="4"/><circle cx="747.3" cy="1036.7" r="4"/><circle cx="748.5" cy="1038.7" r="4"/><circle cx="749.6" cy="1040.7" r="4"/><circle cx="750.8" cy="1042.7" r="4"/><circle cx="752.0" cy="1044.7" r="4"/><circle cx="753.2" cy="1043.3" r="4"/><circle cx="754.4" cy="1042.0" r="4"/><circle cx="755.5" cy="1040.7" r="4"/><circle cx="756.7" cy="1039.3" r="4"/><circle cx="757.7" cy="1044.7" r="4"/><circle cx="758.7" cy="1050.0" r="4"/><circle cx="760.0" cy="1050.5" r="4"/><circle cx="761.3" cy="1051.1" r="4"/><circle cx="762.7" cy="1051.6" r="4"/><circle cx="764.0" cy="1052.2" r="4"/><circle cx="765.3" cy="1052.7" r="4"/><circle cx="766.7" cy="1047.3" r="4"/><circle cx="768.0" cy="1049.8" r="4"/><circle cx="769.4" cy="1052.2" r="4"/><circle cx="770.7" cy="1054.7" r="4"/><circle cx="772.0" cy="1054.8" r="4"/><circle cx="773.4" cy="1055.0" r="4"/><circle cx="774.7" cy="1055.2" r="4"/><circle cx="776.0" cy="1055.3" r="4"/><circle cx="777.3" cy="1052.0" r="4"/><circle cx="778.7" cy="1048.6" r="4"/><circle cx="780.0" cy="1045.3" r="4"/><circle cx="781.0" cy="1048.3" r="4"/><circle cx="782.0" cy="1051.3" r="4"/><circle cx="783.0" cy="1056.0" r="4"/><circle cx="784.0" cy="1060.7" r="4"/><circle cx="785.3" cy="1059.8" r="4"/><circle cx="786.7" cy="1058.9" r="4"/><circle cx="788.0" cy="1058.0" r="4"/><circle cx="789.3" cy="1054.9" r="4"/><circle cx="790.7" cy="1051.8" r="4"/><circle cx="792.0" cy="1048.7" r="4"/><circle cx="793.3" cy="1050.0" r="4"/><circle cx="794.7" cy="1051.4" r="4"/><circle cx="796.0" cy="1052.7" r="4"/><circle cx="797.0" cy="1046.0" r="4"/><circle cx="798.0" cy="1039.3" r="4"/><circle cx="799.0" cy="1041.3" r="4"/><circle cx="800.0" cy="1043.3" r="4"/><circle cx="800.7" cy="1070.0" r="4"/><circle cx="801.3" cy="1094.7" r="4"/><circle cx="802.4" cy="1108.7" r="4"/><circle cx="804.0" cy="1119.3" r="4"/><circle cx="805.0" cy="1122.0" r="4"/><circle cx="806.0" cy="1124.7" r="4"/><circle cx="807.0" cy="1122.7" r="4"/><circle cx="808.0" cy="1120.7" r="4"/><circle cx="808.7" cy="1109.3" r="4"/><circle cx="809.3" cy="1098.0" r="4"/><circle cx="810.6" cy="1096.7" r="4"/><circle cx="812.0" cy="1095.3" r="4"/><circle cx="813.3" cy="1094.0" r="4"/><circle cx="813.6" cy="1083.3" r="4"/><circle cx="814.7" cy="1013.3" r="4"/><circle cx="816.0" cy="981.3" r="4"/><circle cx="817.6" cy="977.3" r="4"/><circle cx="819.1" cy="983.3" r="4"/><circle cx="820.3" cy="1026.0" r="4"/><circle cx="821.7" cy="1086.0" r="4"/><circle cx="822.4" cy="1104.0" r="4"/><circle cx="823.3" cy="1116.7" r="4"/><circle cx="824.3" cy="1120.3" r="4"/><circle cx="825.3" cy="1124.0" r="4"/><circle cx="826.5" cy="1122.3" r="4"/><circle cx="827.7" cy="1120.7" r="4"/><circle cx="828.7" cy="1102.7" r="4"/><circle cx="828.3" cy="1052.0" r="4"/><circle cx="829.3" cy="1046.7" r="4"/><circle cx="830.4" cy="1041.3" r="4"/><circle cx="832.0" cy="1055.3" r="4"/><circle cx="833.2" cy="1054.8" r="4"/><circle cx="834.4" cy="1054.3" r="4"/><circle cx="835.5" cy="1053.8" r="4"/><circle cx="836.7" cy="1053.3" r="4"/><circle cx="838.0" cy="1068.7" r="4"/><circle cx="839.3" cy="1069.3" r="4"/><circle cx="840.6" cy="1070.0" r="4"/><circle cx="842.0" cy="1070.7" r="4"/><circle cx="843.3" cy="1071.3" r="4"/><circle cx="844.6" cy="1062.0" r="4"/><circle cx="846.0" cy="1052.7" r="4"/><circle cx="847.0" cy="1052.0" r="4"/><circle cx="848.0" cy="1051.3" r="4"/><circle cx="849.1" cy="1056.4" r="4"/><circle cx="850.2" cy="1061.6" r="4"/><circle cx="851.3" cy="1066.7" r="4"/><circle cx="852.6" cy="1059.7" r="4"/><circle cx="854.0" cy="1052.7" r="4"/><circle cx="855.3" cy="1052.0" r="4"/><circle cx="856.7" cy="1051.4" r="4"/><circle cx="858.0" cy="1050.7" r="4"/><circle cx="858.9" cy="1082.7" r="4"/><circle cx="860.1" cy="1070.3" r="4"/><circle cx="861.3" cy="1058.0" r="4"/><circle cx="862.6" cy="1058.0" r="4"/><circle cx="864.0" cy="1058.0" r="4"/><circle cx="865.3" cy="1058.0" r="4"/><circle cx="866.7" cy="1058.0" r="4"/><circle cx="868.0" cy="1058.0" r="4"/><circle cx="869.3" cy="1057.2" r="4"/><circle cx="870.6" cy="1056.3" r="4"/><circle cx="872.0" cy="1055.5" r="4"/><circle cx="873.3" cy="1054.7" r="4"/><circle cx="874.7" cy="1074.0" r="4"/><circle cx="876.0" cy="1073.0" r="4"/><circle cx="877.4" cy="1072.0" r="4"/><circle cx="878.7" cy="1071.0" r="4"/><circle cx="880.0" cy="1070.0" r="4"/><circle cx="881.2" cy="1077.7" r="4"/><circle cx="882.4" cy="1085.3" r="4"/><circle cx="883.8" cy="1081.5" r="4"/><circle cx="885.3" cy="1077.8" r="4"/><circle cx="886.7" cy="1074.0" r="4"/><circle cx="888.0" cy="1071.3" r="4"/><circle cx="889.4" cy="1068.7" r="4"/><circle cx="890.7" cy="1066.0" r="4"/><circle cx="891.7" cy="1060.0" r="4"/><circle cx="892.7" cy="1054.0" r="4"/><circle cx="894.0" cy="1056.0" r="4"/><circle cx="895.4" cy="1058.0" r="4"/><circle cx="896.7" cy="1060.0" r="4"/><circle cx="898.0" cy="1060.3" r="4"/><circle cx="899.4" cy="1060.7" r="4"/><circle cx="900.7" cy="1061.0" r="4"/><circle cx="902.0" cy="1061.3" r="4"/><circle cx="903.3" cy="1056.2" r="4"/><circle cx="904.7" cy="1051.1" r="4"/><circle cx="906.0" cy="1046.0" r="4"/><circle cx="907.4" cy="1051.7" r="4"/><circle cx="908.7" cy="1057.3" r="4"/><circle cx="909.9" cy="1061.2" r="4"/><circle cx="911.0" cy="1065.0" r="4"/><circle cx="912.1" cy="1068.8" r="4"/><circle cx="913.3" cy="1072.7" r="4"/><circle cx="914.3" cy="1063.7" r="4"/><circle cx="915.3" cy="1054.7" r="4"/><circle cx="916.5" cy="1056.0" r="4"/><circle cx="917.6" cy="1057.3" r="4"/><circle cx="918.8" cy="1058.7" r="4"/><circle cx="920.0" cy="1060.0" r="4"/><circle cx="921.3" cy="1059.7" r="4"/><circle cx="922.6" cy="1059.3" r="4"/><circle cx="924.0" cy="1059.0" r="4"/><circle cx="925.3" cy="1058.7" r="4"/><circle cx="926.6" cy="1057.2" r="4"/><circle cx="928.0" cy="1055.7" r="4"/><circle cx="929.4" cy="1054.2" r="4"/><circle cx="930.7" cy="1052.7" r="4"/><circle cx="932.0" cy="1054.9" r="4"/><circle cx="933.4" cy="1057.1" r="4"/><circle cx="934.7" cy="1059.3" r="4"/><circle cx="936.0" cy="1058.2" r="4"/><circle cx="937.4" cy="1057.1" r="4"/><circle cx="938.7" cy="1056.0" r="4"/><circle cx="940.0" cy="1050.0" r="4"/><circle cx="941.3" cy="1044.0" r="4"/><circle cx="942.0" cy="1028.7" r="4"/><circle cx="943.3" cy="1021.3" r="4"/><circle cx="944.7" cy="1010.0" r="4"/><circle cx="945.7" cy="988.0" r="4"/><circle cx="946.7" cy="966.7" r="4"/><circle cx="947.7" cy="957.7" r="4"/><circle cx="948.7" cy="948.7" r="4"/><circle cx="950.0" cy="945.3" r="4"/><circle cx="951.5" cy="952.6" r="4"/><circle cx="953.1" cy="960.0" r="4"/><circle cx="954.0" cy="976.7" r="4"/><circle cx="954.9" cy="993.3" r="4"/><circle cx="956.3" cy="1012.0" r="4"/><circle cx="957.6" cy="1029.3" r="4"/><circle cx="959.3" cy="1040.0" r="4"/><circle cx="960.5" cy="1043.0" r="4"/><circle cx="961.6" cy="1046.0" r="4"/><circle cx="962.8" cy="1049.0" r="4"/><circle cx="964.0" cy="1052.0" r="4"/><circle cx="965.3" cy="1048.7" r="4"/><circle cx="966.7" cy="1045.3" r="4"/><circle cx="968.0" cy="1042.0" r="4"/><circle cx="969.3" cy="1060.0" r="4"/><circle cx="970.6" cy="1059.9" r="4"/><circle cx="972.0" cy="1059.7" r="4"/><circle cx="973.3" cy="1059.6" r="4"/><circle cx="974.7" cy="1059.4" r="4"/><circle cx="976.0" cy="1059.3" r="4"/><circle cx="977.2" cy="1058.1" r="4"/><circle cx="978.4" cy="1056.9" r="4"/><circle cx="979.6" cy="1055.7" r="4"/><circle cx="980.9" cy="1054.4" r="4"/><circle cx="982.1" cy="1053.2" r="4"/><circle cx="983.3" cy="1052.0" r="4"/><circle cx="984.6" cy="1054.9" r="4"/><circle cx="986.0" cy="1057.8" r="4"/><circle cx="987.3" cy="1060.7" r="4"/><circle cx="988.5" cy="1060.4" r="4"/><circle cx="989.7" cy="1060.1" r="4"/><circle cx="990.9" cy="1059.9" r="4"/><circle cx="992.1" cy="1059.6" r="4"/><circle cx="993.3" cy="1059.3" r="4"/><circle cx="994.6" cy="1053.7" r="4"/><circle cx="996.0" cy="1048.0" r="4"/><circle cx="997.3" cy="1047.6" r="4"/><circle cx="998.7" cy="1047.1" r="4"/><circle cx="1000.0" cy="1046.7" r="4"/><circle cx="1001.4" cy="1050.0" r="4"/><circle cx="1002.7" cy="1053.3" r="4"/><circle cx="1003.3" cy="1067.3" r="4"/><circle cx="1004.6" cy="1072.0" r="4"/><circle cx="1006.0" cy="1076.7" r="4"/><circle cx="1007.3" cy="1075.2" r="4"/><circle cx="1008.6" cy="1073.7" r="4"/><circle cx="1010.0" cy="1072.2" r="4"/><circle cx="1011.3" cy="1070.7" r="4"/><circle cx="1012.3" cy="1067.7" r="4"/><circle cx="1013.3" cy="1064.7" r="4"/><circle cx="1014.6" cy="1065.5" r="4"/><circle cx="1016.0" cy="1066.3" r="4"/><circle cx="1017.4" cy="1067.2" r="4"/><circle cx="1018.7" cy="1068.0" r="4"/><circle cx="1020.0" cy="1068.5" r="4"/><circle cx="1021.4" cy="1068.9" r="4"/><circle cx="1022.7" cy="1069.3" r="4"/><circle cx="1024.0" cy="1069.8" r="4"/><circle cx="1025.4" cy="1070.2" r="4"/><circle cx="1026.7" cy="1070.7" r="4"/><circle cx="1027.8" cy="1067.4" r="4"/><circle cx="1028.9" cy="1064.0" r="4"/><circle cx="1030.0" cy="1060.7" r="4"/><circle cx="1031.3" cy="1059.6" r="4"/><circle cx="1032.7" cy="1058.4" r="4"/><circle cx="1034.0" cy="1057.3" r="4"/><circle cx="1035.3" cy="1058.2" r="4"/><circle cx="1036.7" cy="1059.1" r="4"/><circle cx="1038.0" cy="1060.0" r="4"/><circle cx="1039.3" cy="1059.2" r="4"/><circle cx="1040.7" cy="1058.4" r="4"/><circle cx="1042.0" cy="1057.6" r="4"/><circle cx="1043.4" cy="1056.8" r="4"/><circle cx="1044.7" cy="1056.0" r="4"/><circle cx="1046.0" cy="1057.3" r="4"/><circle cx="1047.4" cy="1058.7" r="4"/><circle cx="1048.7" cy="1060.0" r="4"/><circle cx="1049.8" cy="1058.7" r="4"/><circle cx="1051.0" cy="1057.3" r="4"/><circle cx="1052.2" cy="1056.0" r="4"/><circle cx="1053.3" cy="1054.7" r="4"/><circle cx="1054.9" cy="1042.7" r="4"/><circle cx="1056.4" cy="1044.5" r="4"/><circle cx="1057.8" cy="1046.2" r="4"/><circle cx="1059.3" cy="1048.0" r="4"/><circle cx="1060.4" cy="1052.4" r="4"/><circle cx="1061.6" cy="1056.9" r="4"/><circle cx="1062.7" cy="1061.3" r="4"/><circle cx="1064.0" cy="1062.6" r="4"/><circle cx="1065.4" cy="1064.0" r="4"/><circle cx="1066.7" cy="1065.3" r="4"/><circle cx="1067.8" cy="1068.0" r="4"/><circle cx="1069.0" cy="1070.7" r="4"/><circle cx="1070.2" cy="1073.3" r="4"/><circle cx="1071.3" cy="1076.0" r="4"/><circle cx="1072.5" cy="1074.7" r="4"/><circle cx="1073.7" cy="1073.3" r="4"/><circle cx="1074.8" cy="1072.0" r="4"/><circle cx="1076.0" cy="1070.7" r="4"/><circle cx="1077.3" cy="1071.6" r="4"/><circle cx="1078.7" cy="1072.4" r="4"/><circle cx="1080.0" cy="1073.3" r="4"/><circle cx="1081.3" cy="1066.7" r="4"/><circle cx="1082.0" cy="1052.7" r="4"/><circle cx="1083.3" cy="1044.7" r="4"/><circle cx="1084.6" cy="1045.1" r="4"/><circle cx="1086.0" cy="1045.6" r="4"/><circle cx="1087.3" cy="1046.0" r="4"/><circle cx="1088.3" cy="1041.7" r="4"/><circle cx="1089.3" cy="1037.3" r="4"/><circle cx="1090.0" cy="1022.7" r="4"/><circle cx="1091.3" cy="1008.0" r="4"/><circle cx="1092.7" cy="989.3" r="4"/><circle cx="1094.0" cy="973.3" r="4"/><circle cx="1095.3" cy="962.7" r="4"/><circle cx="1096.3" cy="957.4" r="4"/><circle cx="1097.3" cy="952.0" r="4"/><circle cx="1098.3" cy="948.6" r="4"/><circle cx="1099.3" cy="945.3" r="4"/><circle cx="1100.4" cy="947.5" r="4"/><circle cx="1101.6" cy="949.8" r="4"/><circle cx="1102.7" cy="952.0" r="4"/><circle cx="1104.0" cy="962.7" r="4"/><circle cx="1105.1" cy="963.6" r="4"/><circle cx="1106.2" cy="964.4" r="4"/><circle cx="1107.3" cy="965.3" r="4"/><circle cx="1108.5" cy="963.0" r="4"/><circle cx="1109.7" cy="960.6" r="4"/><circle cx="1110.8" cy="958.3" r="4"/><circle cx="1112.0" cy="956.0" r="4"/><circle cx="1113.3" cy="952.0" r="4"/><circle cx="1114.7" cy="948.0" r="4"/><circle cx="1116.0" cy="944.0" r="4"/><circle cx="1117.3" cy="940.4" r="4"/><circle cx="1118.7" cy="936.7" r="4"/><circle cx="1119.8" cy="938.7" r="4"/><circle cx="1121.0" cy="940.7" r="4"/><circle cx="1122.2" cy="942.7" r="4"/><circle cx="1123.3" cy="944.7" r="4"/><circle cx="1124.7" cy="947.5" r="4"/><circle cx="1126.0" cy="950.4" r="4"/><circle cx="1127.3" cy="953.2" r="4"/><circle cx="1128.7" cy="956.0" r="4"/><circle cx="1129.7" cy="961.0" r="4"/><circle cx="1130.7" cy="966.0" r="4"/><circle cx="1132.0" cy="974.7" r="4"/><circle cx="1132.7" cy="983.3" r="4"/><circle cx="1134.0" cy="993.3" r="4"/><circle cx="1135.0" cy="997.3" r="4"/><circle cx="1136.0" cy="1001.3" r="4"/><circle cx="1137.3" cy="1002.4" r="4"/><circle cx="1138.7" cy="1003.6" r="4"/><circle cx="1140.0" cy="1004.7" r="4"/><circle cx="1141.2" cy="1004.8" r="4"/><circle cx="1142.4" cy="1004.9" r="4"/><circle cx="1143.6" cy="1005.1" r="4"/><circle cx="1144.8" cy="1005.2" r="4"/><circle cx="1146.0" cy="1005.3" r="4"/><circle cx="1147.3" cy="1004.8" r="4"/><circle cx="1148.7" cy="1004.3" r="4"/><circle cx="1150.0" cy="1003.7" r="4"/><circle cx="1151.4" cy="1003.2" r="4"/><circle cx="1152.7" cy="1002.7" r="4"/><circle cx="1153.8" cy="1003.6" r="4"/><circle cx="1154.9" cy="1004.4" r="4"/><circle cx="1156.0" cy="1005.3" r="4"/><circle cx="1157.2" cy="1004.9" r="4"/><circle cx="1158.4" cy="1004.5" r="4"/><circle cx="1159.6" cy="1004.1" r="4"/><circle cx="1160.8" cy="1003.7" r="4"/><circle cx="1162.0" cy="1003.3" r="4"/><circle cx="1163.1" cy="1000.2" r="4"/><circle cx="1164.2" cy="997.1" r="4"/><circle cx="1165.3" cy="994.0" r="4"/><circle cx="1166.4" cy="993.1" r="4"/><circle cx="1167.6" cy="992.2" r="4"/><circle cx="1168.7" cy="991.3" r="4"/><circle cx="1170.0" cy="991.5" r="4"/><circle cx="1171.4" cy="991.8" r="4"/><circle cx="1172.7" cy="992.0" r="4"/><circle cx="1173.8" cy="994.7" r="4"/><circle cx="1174.9" cy="997.3" r="4"/><circle cx="1176.0" cy="1000.0" r="4"/><circle cx="1177.3" cy="1005.4" r="4"/><circle cx="1178.7" cy="1010.7" r="4"/><circle cx="1180.0" cy="1015.0" r="4"/><circle cx="1181.3" cy="1019.3" r="4"/><circle cx="1182.7" cy="1026.7" r="4"/><circle cx="1183.3" cy="1034.0" r="4"/><circle cx="1184.4" cy="1035.6" r="4"/><circle cx="1185.6" cy="1037.1" r="4"/><circle cx="1186.7" cy="1038.7" r="4"/><circle cx="1187.7" cy="1041.7" r="4"/><circle cx="1188.7" cy="1044.7" r="4"/><circle cx="1189.8" cy="1043.8" r="4"/><circle cx="1191.0" cy="1043.0" r="4"/><circle cx="1192.2" cy="1042.2" r="4"/><circle cx="1193.3" cy="1041.3" r="4"/><circle cx="1194.3" cy="1043.3" r="4"/><circle cx="1195.3" cy="1045.3" r="4"/><circle cx="1196.4" cy="1044.9" r="4"/><circle cx="1197.6" cy="1044.4" r="4"/><circle cx="1198.7" cy="1044.0" r="4"/><circle cx="1200.0" cy="1037.3" r="4"/><circle cx="1201.3" cy="1030.7" r="4"/><circle cx="1202.6" cy="1027.6" r="4"/><circle cx="1204.0" cy="1024.4" r="4"/><circle cx="1205.3" cy="1021.3" r="4"/><circle cx="1206.6" cy="1022.6" r="4"/><circle cx="1208.0" cy="1024.0" r="4"/><circle cx="1209.3" cy="1025.3" r="4"/><circle cx="1210.7" cy="1028.7" r="4"/><circle cx="1212.0" cy="1032.0" r="4"/><circle cx="1213.0" cy="1036.0" r="4"/><circle cx="1214.0" cy="1040.0" r="4"/><circle cx="1215.1" cy="1042.0" r="4"/><circle cx="1216.2" cy="1044.0" r="4"/><circle cx="1217.3" cy="1046.0" r="4"/><circle cx="1218.7" cy="1041.7" r="4"/><circle cx="1220.0" cy="1037.3" r="4"/><circle cx="1221.3" cy="1036.6" r="4"/><circle cx="1222.7" cy="1036.0" r="4"/><circle cx="1224.0" cy="1035.3" r="4"/><circle cx="1225.3" cy="1036.0" r="4"/><circle cx="1226.7" cy="1036.6" r="4"/><circle cx="1228.0" cy="1037.3" r="4"/><circle cx="1229.2" cy="1036.8" r="4"/><circle cx="1230.3" cy="1036.3" r="4"/><circle cx="1231.5" cy="1035.8" r="4"/><circle cx="1232.7" cy="1035.3" r="4"/><circle cx="1234.0" cy="1037.7" r="4"/><circle cx="1235.3" cy="1040.0" r="4"/><circle cx="1236.3" cy="1043.0" r="4"/><circle cx="1237.3" cy="1046.0" r="4"/><circle cx="1238.6" cy="1045.3" r="4"/><circle cx="1240.0" cy="1044.7" r="4"/><circle cx="1241.3" cy="1044.0" r="4"/><circle cx="1242.7" cy="1002.0" r="4"/><circle cx="1244.0" cy="941.3" r="4"/><circle cx="1244.8" cy="1005.3" r="4"/><circle cx="1245.9" cy="945.3" r="4"/><circle cx="1245.6" cy="1068.0" r="4"/><circle cx="1247.3" cy="1070.7" r="4"/><circle cx="1248.3" cy="1000.0" r="4"/><circle cx="1250.0" cy="925.3" r="4"/><circle cx="1250.7" cy="994.7" r="4"/><circle cx="1251.7" cy="937.3" r="4"/><circle cx="1252.7" cy="955.3" r="4"/><circle cx="1254.0" cy="998.0" r="4"/><circle cx="1255.0" cy="1008.6" r="4"/><circle cx="1256.0" cy="1019.3" r="4"/><circle cx="1256.7" cy="1029.3" r="4"/><circle cx="1256.7" cy="1054.7" r="4"/><circle cx="1257.8" cy="1056.3" r="4"/><circle cx="1259.0" cy="1058.0" r="4"/><circle cx="1260.2" cy="1059.7" r="4"/><circle cx="1261.3" cy="1061.3" r="4"/><circle cx="1262.4" cy="1060.4" r="4"/><circle cx="1263.6" cy="1059.6" r="4"/><circle cx="1264.7" cy="1058.7" r="4"/><circle cx="1266.0" cy="1042.7" r="4"/><circle cx="1266.7" cy="1022.7" r="4"/><circle cx="1268.3" cy="995.3" r="4"/><circle cx="1269.3" cy="1053.3" r="4"/><circle cx="1270.4" cy="996.0" r="4"/><circle cx="1271.1" cy="1078.0" r="4"/><circle cx="1272.0" cy="1092.7" r="4"/><circle cx="1273.1" cy="1077.3" r="4"/><circle cx="1273.3" cy="996.7" r="4"/><circle cx="1274.1" cy="1053.3" r="4"/><circle cx="1274.9" cy="995.3" r="4"/><circle cx="1276.7" cy="1017.3" r="4"/><circle cx="1277.3" cy="1041.3" r="4"/><circle cx="1278.3" cy="1050.7" r="4"/><circle cx="1279.3" cy="1060.0" r="4"/><circle cx="1280.5" cy="1057.7" r="4"/><circle cx="1281.7" cy="1055.3" r="4"/><circle cx="1282.8" cy="1053.0" r="4"/><circle cx="1284.0" cy="1050.7" r="4"/><circle cx="1285.3" cy="1054.7" r="4"/><circle cx="1286.7" cy="1058.7" r="4"/><circle cx="1288.0" cy="1050.7" r="4"/><circle cx="1289.1" cy="1048.0" r="4"/><circle cx="1290.2" cy="1045.4" r="4"/><circle cx="1291.3" cy="1042.7" r="4"/><circle cx="1292.6" cy="1043.0" r="4"/><circle cx="1294.0" cy="1043.2" r="4"/><circle cx="1295.3" cy="1043.5" r="4"/><circle cx="1296.7" cy="1043.7" r="4"/><circle cx="1298.0" cy="1044.0" r="4"/><circle cx="1299.0" cy="1050.0" r="4"/><circle cx="1300.0" cy="1056.0" r="4"/><circle cx="1301.3" cy="1059.7" r="4"/><circle cx="1302.7" cy="1063.3" r="4"/><circle cx="1303.8" cy="1057.3" r="4"/><circle cx="1304.9" cy="1051.3" r="4"/><circle cx="1306.0" cy="1045.3" r="4"/><circle cx="1307.3" cy="1043.0" r="4"/><circle cx="1308.7" cy="1040.7" r="4"/><circle cx="1309.7" cy="1044.3" r="4"/><circle cx="1310.7" cy="1048.0" r="4"/><circle cx="1312.0" cy="1050.7" r="4"/><circle cx="1313.3" cy="1053.3" r="4"/><circle cx="1314.4" cy="1051.5" r="4"/><circle cx="1315.6" cy="1049.8" r="4"/><circle cx="1316.7" cy="1048.0" r="4"/><circle cx="1317.7" cy="1036.0" r="4"/><circle cx="1318.7" cy="1024.0" r="4"/><circle cx="1319.9" cy="1020.6" r="4"/><circle cx="1321.1" cy="1017.3" r="4"/><circle cx="1322.7" cy="1080.7" r="4"/><circle cx="1324.0" cy="1092.0" r="4"/><circle cx="1325.3" cy="1092.1" r="4"/><circle cx="1326.7" cy="1092.2" r="4"/><circle cx="1328.0" cy="1092.2" r="4"/><circle cx="1329.3" cy="1092.3" r="4"/><circle cx="1330.5" cy="1093.2" r="4"/><circle cx="1331.7" cy="1094.0" r="4"/><circle cx="1332.8" cy="1093.2" r="4"/><circle cx="1334.0" cy="1092.3" r="4"/><circle cx="1335.2" cy="1092.3" r="4"/><circle cx="1336.5" cy="1092.2" r="4"/><circle cx="1337.7" cy="1092.2" r="4"/><circle cx="1339.0" cy="1092.1" r="4"/><circle cx="1340.2" cy="1092.1" r="4"/><circle cx="1341.5" cy="1092.0" r="4"/><circle cx="1342.7" cy="1092.0" r="4"/><circle cx="1343.7" cy="1082.0" r="4"/><circle cx="1344.7" cy="1030.0" r="4"/><circle cx="1345.7" cy="1038.3" r="4"/><circle cx="1346.7" cy="1046.7" r="4"/><circle cx="1347.7" cy="1053.0" r="4"/><circle cx="1348.7" cy="1059.3" r="4"/><circle cx="1350.0" cy="1054.0" r="4"/><circle cx="1351.3" cy="1048.7" r="4"/><circle cx="1352.7" cy="1048.3" r="4"/><circle cx="1354.0" cy="1048.0" r="4"/><circle cx="1355.3" cy="1047.7" r="4"/><circle cx="1356.7" cy="1047.3" r="4"/><circle cx="1358.0" cy="1050.3" r="4"/><circle cx="1359.3" cy="1053.3" r="4"/><circle cx="1360.0" cy="1062.7" r="4"/><circle cx="1361.0" cy="1064.3" r="4"/><circle cx="1362.0" cy="1066.0" r="4"/><circle cx="1363.3" cy="1064.9" r="4"/><circle cx="1364.7" cy="1063.8" r="4"/><circle cx="1366.0" cy="1062.7" r="4"/><circle cx="1367.3" cy="1063.1" r="4"/><circle cx="1368.7" cy="1063.5" r="4"/><circle cx="1370.0" cy="1063.9" r="4"/><circle cx="1371.4" cy="1064.3" r="4"/><circle cx="1372.7" cy="1064.7" r="4"/><circle cx="1374.0" cy="1062.8" r="4"/><circle cx="1375.3" cy="1061.0" r="4"/><circle cx="1376.7" cy="1059.2" r="4"/><circle cx="1378.0" cy="1057.3" r="4"/><circle cx="1379.3" cy="1060.0" r="4"/><circle cx="1380.7" cy="1062.6" r="4"/><circle cx="1382.0" cy="1065.3" r="4"/><circle cx="1383.1" cy="1063.1" r="4"/><circle cx="1384.2" cy="1060.9" r="4"/><circle cx="1385.3" cy="1058.7" r="4"/><circle cx="1386.5" cy="1058.3" r="4"/><circle cx="1387.7" cy="1057.9" r="4"/><circle cx="1388.9" cy="1057.5" r="4"/><circle cx="1390.1" cy="1057.1" r="4"/><circle cx="1391.3" cy="1056.7" r="4"/><circle cx="1392.4" cy="1058.7" r="4"/><circle cx="1393.6" cy="1060.7" r="4"/><circle cx="1394.7" cy="1062.7" r="4"/><circle cx="1395.8" cy="1064.0" r="4"/><circle cx="1397.0" cy="1065.3" r="4"/><circle cx="1398.2" cy="1066.7" r="4"/><circle cx="1399.3" cy="1068.0" r="4"/><circle cx="1400.3" cy="1063.3" r="4"/><circle cx="1401.3" cy="1058.7" r="4"/><circle cx="1402.6" cy="1058.2" r="4"/><circle cx="1404.0" cy="1057.6" r="4"/><circle cx="1405.3" cy="1057.1" r="4"/><circle cx="1406.7" cy="1056.5" r="4"/><circle cx="1408.0" cy="1056.0" r="4"/><circle cx="1409.3" cy="1057.1" r="4"/><circle cx="1410.7" cy="1058.2" r="4"/><circle cx="1412.0" cy="1059.3" r="4"/><circle cx="1413.2" cy="1058.0" r="4"/><circle cx="1414.3" cy="1056.7" r="4"/><circle cx="1415.5" cy="1055.3" r="4"/><circle cx="1416.7" cy="1054.0" r="4"/><circle cx="1417.8" cy="1056.2" r="4"/><circle cx="1418.9" cy="1058.5" r="4"/><circle cx="1420.0" cy="1060.7" r="4"/><circle cx="1421.1" cy="1056.9" r="4"/><circle cx="1422.2" cy="1053.1" r="4"/><circle cx="1423.3" cy="1049.3" r="4"/><circle cx="1424.5" cy="1050.0" r="4"/><circle cx="1425.7" cy="1050.7" r="4"/><circle cx="1426.8" cy="1051.3" r="4"/><circle cx="1428.0" cy="1052.0" r="4"/><circle cx="1429.2" cy="1049.5" r="4"/><circle cx="1430.3" cy="1047.0" r="4"/><circle cx="1431.5" cy="1044.5" r="4"/><circle cx="1432.7" cy="1042.0" r="4"/><circle cx="1433.8" cy="1044.8" r="4"/><circle cx="1435.0" cy="1047.7" r="4"/><circle cx="1436.2" cy="1050.5" r="4"/><circle cx="1437.3" cy="1053.3" r="4"/><circle cx="1438.6" cy="1052.0" r="4"/><circle cx="1440.0" cy="1050.6" r="4"/><circle cx="1441.3" cy="1049.3" r="4"/><circle cx="1442.6" cy="1050.9" r="4"/><circle cx="1444.0" cy="1052.4" r="4"/><circle cx="1445.3" cy="1054.0" r="4"/><circle cx="1446.7" cy="1041.3" r="4"/><circle cx="1448.0" cy="1036.3" r="4"/><circle cx="1449.3" cy="1031.3" r="4"/><circle cx="1450.7" cy="1031.8" r="4"/><circle cx="1452.0" cy="1032.3" r="4"/><circle cx="1453.3" cy="1032.8" r="4"/><circle cx="1454.7" cy="1033.3" r="4"/><circle cx="1456.0" cy="1035.5" r="4"/><circle cx="1457.4" cy="1037.8" r="4"/><circle cx="1458.7" cy="1040.0" r="4"/><circle cx="1459.7" cy="1045.3" r="4"/><circle cx="1460.7" cy="1050.7" r="4"/><circle cx="1462.0" cy="1055.3" r="4"/><circle cx="1463.3" cy="1060.0" r="4"/><circle cx="1464.5" cy="1061.0" r="4"/><circle cx="1465.7" cy="1062.0" r="4"/><circle cx="1466.8" cy="1063.0" r="4"/><circle cx="1468.0" cy="1064.0" r="4"/><circle cx="1469.3" cy="1065.7" r="4"/><circle cx="1470.7" cy="1067.3" r="4"/><circle cx="1472.0" cy="1061.7" r="4"/><circle cx="1473.3" cy="1056.0" r="4"/><circle cx="1474.5" cy="1053.3" r="4"/><circle cx="1475.7" cy="1050.7" r="4"/><circle cx="1477.3" cy="1060.7" r="4"/><circle cx="1478.3" cy="1066.3" r="4"/><circle cx="1479.3" cy="1072.0" r="4"/><circle cx="1480.7" cy="1066.0" r="4"/><circle cx="1482.0" cy="1060.0" r="4"/><circle cx="1483.0" cy="1052.7" r="4"/><circle cx="1484.0" cy="1045.3" r="4"/><circle cx="1485.0" cy="1037.3" r="4"/><circle cx="1486.0" cy="1029.3" r="4"/><circle cx="1486.7" cy="1082.0" r="4"/><circle cx="1487.7" cy="1087.0" r="4"/><circle cx="1488.7" cy="1092.0" r="4"/><circle cx="1490.0" cy="1092.0" r="4"/><circle cx="1491.3" cy="1092.0" r="4"/><circle cx="1492.3" cy="1086.0" r="4"/><circle cx="1493.3" cy="1080.0" r="4"/><circle cx="1494.0" cy="1008.0" r="4"/><circle cx="1495.3" cy="994.9" r="4"/><circle cx="1496.7" cy="999.5" r="4"/><circle cx="1498.0" cy="1004.0" r="4"/><circle cx="1499.3" cy="1020.0" r="4"/><circle cx="1500.3" cy="1072.0" r="4"/><circle cx="1502.0" cy="1018.7" r="4"/><circle cx="1503.0" cy="1018.4" r="4"/><circle cx="1504.0" cy="1018.0" r="4"/><circle cx="1505.3" cy="1021.6" r="4"/><circle cx="1506.7" cy="1025.3" r="4"/><circle cx="1507.8" cy="1024.6" r="4"/><circle cx="1508.9" cy="1024.0" r="4"/><circle cx="1510.0" cy="1023.3" r="4"/><circle cx="1511.0" cy="1051.0" r="4"/><circle cx="1512.0" cy="1078.7" r="4"/><circle cx="1513.0" cy="1054.7" r="4"/><circle cx="1514.0" cy="1030.7" r="4"/><circle cx="1515.3" cy="1029.7" r="4"/><circle cx="1516.7" cy="1028.7" r="4"/><circle cx="1518.0" cy="1035.3" r="4"/><circle cx="1519.3" cy="1045.3" r="4"/><circle cx="1520.5" cy="1046.3" r="4"/><circle cx="1521.7" cy="1047.3" r="4"/><circle cx="1522.8" cy="1048.3" r="4"/><circle cx="1524.0" cy="1049.3" r="4"/><circle cx="1525.1" cy="1052.0" r="4"/><circle cx="1526.2" cy="1054.6" r="4"/><circle cx="1527.3" cy="1057.3" r="4"/><circle cx="1528.5" cy="1056.6" r="4"/><circle cx="1529.7" cy="1056.0" r="4"/><circle cx="1530.9" cy="1055.3" r="4"/><circle cx="1532.1" cy="1054.7" r="4"/><circle cx="1533.3" cy="1054.0" r="4"/><circle cx="1534.7" cy="1052.0" r="4"/><circle cx="1536.0" cy="1050.0" r="4"/><circle cx="1537.2" cy="1051.8" r="4"/><circle cx="1538.3" cy="1053.7" r="4"/><circle cx="1539.5" cy="1055.5" r="4"/><circle cx="1540.7" cy="1057.3" r="4"/><circle cx="1541.8" cy="1056.7" r="4"/><circle cx="1543.0" cy="1056.0" r="4"/><circle cx="1544.2" cy="1055.3" r="4"/><circle cx="1545.3" cy="1054.7" r="4"/><circle cx="1546.4" cy="1056.2" r="4"/><circle cx="1547.6" cy="1057.8" r="4"/><circle cx="1548.7" cy="1059.3" r="4"/><circle cx="1550.0" cy="1052.0" r="4"/><circle cx="1551.3" cy="1044.7" r="4"/><circle cx="1552.3" cy="1043.7" r="4"/><circle cx="1553.3" cy="1042.7" r="4"/><circle cx="1554.7" cy="1045.3" r="4"/><circle cx="1556.0" cy="1048.0" r="4"/><circle cx="1557.2" cy="1046.9" r="4"/><circle cx="1558.4" cy="1045.8" r="4"/><circle cx="1559.7" cy="1044.7" r="4"/><circle cx="1560.9" cy="1043.5" r="4"/><circle cx="1562.1" cy="1042.4" r="4"/><circle cx="1563.3" cy="1041.3" r="4"/><circle cx="1564.5" cy="1042.8" r="4"/><circle cx="1565.7" cy="1044.3" r="4"/><circle cx="1566.8" cy="1045.8" r="4"/><circle cx="1568.0" cy="1047.3" r="4"/><circle cx="1569.3" cy="1044.7" r="4"/><circle cx="1570.7" cy="1042.0" r="4"/><circle cx="1572.0" cy="1043.1" r="4"/><circle cx="1573.4" cy="1044.2" r="4"/><circle cx="1574.7" cy="1045.3" r="4"/><circle cx="1575.8" cy="1041.8" r="4"/><circle cx="1576.9" cy="1038.2" r="4"/><circle cx="1578.0" cy="1034.7" r="4"/><circle cx="1578.7" cy="1026.7" r="4"/><circle cx="1579.7" cy="1024.7" r="4"/><circle cx="1580.7" cy="1022.7" r="4"/><circle cx="1581.9" cy="1023.6" r="4"/><circle cx="1583.1" cy="1024.5" r="4"/><circle cx="1584.3" cy="1025.5" r="4"/><circle cx="1585.5" cy="1026.4" r="4"/><circle cx="1586.7" cy="1027.3" r="4"/><circle cx="1587.9" cy="1029.8" r="4"/><circle cx="1589.1" cy="1032.4" r="4"/><circle cx="1590.3" cy="1034.9" r="4"/><circle cx="1591.5" cy="1037.5" r="4"/><circle cx="1592.7" cy="1040.0" r="4"/><circle cx="1593.8" cy="1038.5" r="4"/><circle cx="1595.0" cy="1037.0" r="4"/><circle cx="1596.2" cy="1035.5" r="4"/><circle cx="1597.3" cy="1034.0" r="4"/><circle cx="1598.5" cy="1037.0" r="4"/><circle cx="1599.7" cy="1040.0" r="4"/><circle cx="1600.8" cy="1043.0" r="4"/><circle cx="1602.0" cy="1046.0" r="4"/><circle cx="1603.2" cy="1042.9" r="4"/><circle cx="1604.4" cy="1039.9" r="4"/><circle cx="1605.6" cy="1036.8" r="4"/><circle cx="1606.8" cy="1033.8" r="4"/><circle cx="1608.0" cy="1030.7" r="4"/><circle cx="1609.3" cy="1026.7" r="4"/><circle cx="1610.7" cy="1022.7" r="4"/><circle cx="1612.0" cy="1014.0" r="4"/><circle cx="1613.0" cy="1008.6" r="4"/><circle cx="1614.0" cy="1003.3" r="4"/><circle cx="1615.3" cy="997.6" r="4"/><circle cx="1616.7" cy="992.0" r="4"/><circle cx="1618.2" cy="987.0" r="4"/><circle cx="1619.7" cy="982.0" r="4"/><circle cx="1620.9" cy="986.4" r="4"/><circle cx="1622.1" cy="990.9" r="4"/><circle cx="1623.3" cy="995.3" r="4"/><circle cx="1624.5" cy="1000.3" r="4"/><circle cx="1625.7" cy="1005.3" r="4"/><circle cx="1626.8" cy="1010.3" r="4"/><circle cx="1628.0" cy="1015.3" r="4"/><circle cx="1629.3" cy="1011.8" r="4"/><circle cx="1630.7" cy="1008.2" r="4"/><circle cx="1632.0" cy="1004.7" r="4"/><circle cx="1633.3" cy="1000.2" r="4"/><circle cx="1634.7" cy="995.8" r="4"/><circle cx="1636.0" cy="991.3" r="4"/><circle cx="1637.1" cy="988.9" r="4"/><circle cx="1638.2" cy="986.4" r="4"/><circle cx="1639.3" cy="984.0" r="4"/><circle cx="1640.7" cy="989.0" r="4"/><circle cx="1642.0" cy="994.0" r="4"/><circle cx="1643.3" cy="999.0" r="4"/><circle cx="1644.7" cy="1004.0" r="4"/><circle cx="1645.9" cy="1000.9" r="4"/><circle cx="1647.1" cy="997.9" r="4"/><circle cx="1648.3" cy="994.8" r="4"/><circle cx="1649.5" cy="991.8" r="4"/><circle cx="1650.7" cy="988.7" r="4"/><circle cx="1652.0" cy="990.4" r="4"/><circle cx="1653.3" cy="992.1" r="4"/><circle cx="1654.7" cy="993.9" r="4"/><circle cx="1656.0" cy="995.6" r="4"/><circle cx="1657.3" cy="997.3" r="4"/><circle cx="1658.7" cy="993.0" r="4"/><circle cx="1660.0" cy="988.7" r="4"/><circle cx="1660.7" cy="975.3" r="4"/><circle cx="1661.7" cy="971.3" r="4"/><circle cx="1662.7" cy="967.3" r="4"/><circle cx="1664.0" cy="959.3" r="4"/><circle cx="1665.3" cy="951.3" r="4"/><circle cx="1666.7" cy="943.3" r="4"/><circle cx="1667.7" cy="938.6" r="4"/><circle cx="1668.7" cy="934.0" r="4"/><circle cx="1670.0" cy="926.0" r="4"/><circle cx="1671.3" cy="924.6" r="4"/><circle cx="1672.7" cy="923.3" r="4"/><circle cx="1674.0" cy="926.8" r="4"/><circle cx="1675.3" cy="930.3" r="4"/><circle cx="1676.7" cy="933.7" r="4"/><circle cx="1678.0" cy="937.2" r="4"/><circle cx="1679.3" cy="940.7" r="4"/><circle cx="1680.5" cy="938.6" r="4"/><circle cx="1681.8" cy="936.5" r="4"/><circle cx="1683.0" cy="934.4" r="4"/><circle cx="1684.2" cy="932.2" r="4"/><circle cx="1685.5" cy="930.1" r="4"/><circle cx="1686.7" cy="928.0" r="4"/><circle cx="1688.0" cy="917.3" r="4"/><circle cx="1689.1" cy="918.4" r="4"/><circle cx="1690.2" cy="919.6" r="4"/><circle cx="1691.3" cy="920.7" r="4"/><circle cx="1692.6" cy="917.4" r="4"/><circle cx="1694.0" cy="914.0" r="4"/><circle cx="1695.3" cy="910.7" r="4"/><circle cx="1696.5" cy="913.0" r="4"/><circle cx="1697.7" cy="915.4" r="4"/><circle cx="1698.8" cy="917.7" r="4"/><circle cx="1700.0" cy="920.0" r="4"/><circle cx="1701.3" cy="917.3" r="4"/><circle cx="1702.7" cy="914.7" r="4"/><circle cx="1704.0" cy="912.0" r="4"/><circle cx="1705.2" cy="911.4" r="4"/><circle cx="1706.3" cy="910.9" r="4"/><circle cx="1707.5" cy="910.3" r="4"/><circle cx="1708.7" cy="909.7" r="4"/></g>
</svg>
</body></html>
